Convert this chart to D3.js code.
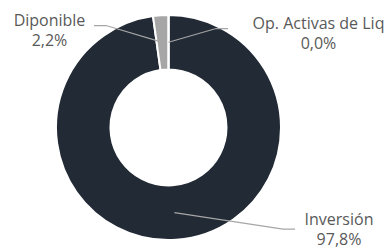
<!DOCTYPE html>
<html>
<head>
<meta charset="utf-8">
<script src="https://cdn.jsdelivr.net/npm/d3@7"></script>
<style>
  body { margin: 0; background: #fff; }
  svg { display: block; }
  text { font-family: "Open Sans", sans-serif; }
</style>
</head>
<body>
<div id="chart"></div>
<script>
// data, in drawing order (clockwise from 12 o'clock)
var categories = ["Inversión", "Diponible", "Op. Activas de Liq"];
var values = [97.8, 2.2, 0.0];
var valueLabels = ["97,8%", "2,2%", "0,0%"];
var colors = ["#222a35", "#a6a6a6", "#7f7f7f"];

var width = 391, height = 250;
var cx = 168.5, cy = 127.5;
var outerR = 112.5, innerR = 58;
var fontSize = 16;

// where each label box sits and where its leader line leaves it
var labelLayout = [
  {x: 339, y: 225, ax: 295, ay: 229, dir: -1},
  {x: 49.5, y: 25.5, ax: 94, ay: 25.5, dir: 1},
  {x: 318.5, y: 28.5, ax: 228, ay: 28.5, dir: -1}
];

var svg = d3.select("#chart").append("svg")
    .attr("width", width)
    .attr("height", height);

var pie = d3.pie().sort(null).value(function(d){ return d; });
var arcs = pie(values);

var arc = d3.arc().innerRadius(innerR).outerRadius(outerR);
var midArc = d3.arc().innerRadius((innerR + outerR) / 2).outerRadius((innerR + outerR) / 2);

var g = svg.append("g").attr("transform", "translate(" + cx + "," + cy + ")");

g.selectAll("path.slice")
    .data(arcs)
  .enter().append("path")
    .attr("class", "slice")
    .attr("d", arc)
    .style("fill", function(d, i){ return colors[i]; })
    .style("stroke", "#fff")
    .style("stroke-width", 2);

// leader lines: slice centre -> elbow -> label
svg.selectAll("polyline.leader")
    .data(arcs)
  .enter().append("polyline")
    .attr("class", "leader")
    .attr("points", function(d, i){
        var c = midArc.centroid(d);
        var L = labelLayout[i];
        var pts = [[cx + c[0], cy + c[1]], [L.ax + L.dir * 12, L.ay], [L.ax, L.ay]];
        return pts.map(function(p){ return p.join(","); }).join(" ");
    })
    .style("fill", "none")
    .style("stroke", "#a6a6a6")
    .style("stroke-width", 1.25);

var labels = svg.selectAll("text.label")
    .data(arcs)
  .enter().append("text")
    .attr("class", "label")
    .attr("text-anchor", "middle")
    .style("font-size", fontSize + "px")
    .style("fill", "#595959");

labels.append("tspan")
    .attr("x", function(d, i){ return labelLayout[i].x; })
    .attr("y", function(d, i){ return labelLayout[i].y; })
    .text(function(d, i){ return categories[i]; });

labels.append("tspan")
    .attr("x", function(d, i){ return labelLayout[i].x; })
    .attr("y", function(d, i){ return labelLayout[i].y + 20; })
    .text(function(d, i){ return valueLabels[i]; });
</script>
</body>
</html>
